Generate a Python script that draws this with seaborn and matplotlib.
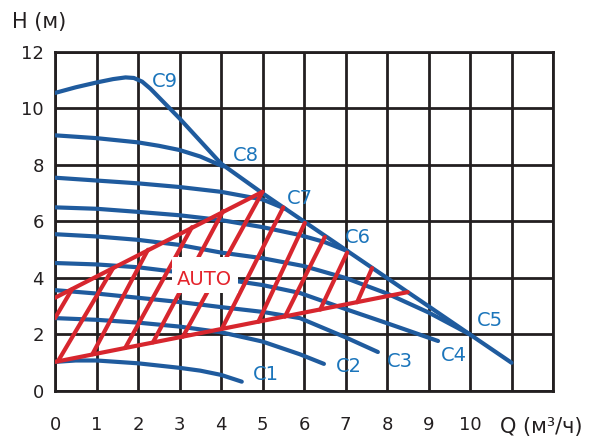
import numpy as np
import pandas as pd
import matplotlib
matplotlib.use('Agg')
import matplotlib.pyplot as plt
import seaborn as sns
from matplotlib.patches import Rectangle

# Pump curves: flow Q (m3/h) and head H (m)
c1_q = [0, 0.5, 1, 2, 3, 3.5, 4, 4.5]
c1_h = [1.03, 1.08, 1.08, 0.98, 0.82, 0.72, 0.57, 0.33]
c2_q = [0, 1, 2, 3, 4, 5, 5.9, 6.48]
c2_h = [2.58, 2.52, 2.42, 2.28, 2.08, 1.75, 1.3, 0.96]
c3_q = [0, 1, 2, 3, 4, 5, 5.9, 7, 7.78]
c3_h = [3.57, 3.45, 3.3, 3.15, 2.97, 2.8, 2.58, 1.9, 1.38]
c4_q = [0, 1, 2, 3, 4, 5, 5.9, 7, 8, 9.23]
c4_h = [4.53, 4.48, 4.38, 4.2, 3.97, 3.75, 3.47, 2.9, 2.4, 1.77]
c5_q = [0, 1, 2, 3, 4, 5, 6, 7, 8, 9, 10]
c5_h = [5.55, 5.47, 5.35, 5.17, 4.9, 4.7, 4.42, 4.0, 3.45, 2.78, 2.0]
c6_q = [0, 1, 2, 3, 4, 5, 5.9, 6.5, 7.05]
c6_h = [6.5, 6.45, 6.34, 6.22, 6.05, 5.8, 5.52, 5.27, 4.95]
c7_q = [0, 1, 2, 3, 4, 5, 5.55]
c7_h = [7.55, 7.45, 7.35, 7.22, 7.05, 6.78, 6.45]
c8_q = [0, 1, 2, 2.5, 3, 3.5, 4.05]
c8_h = [9.05, 8.95, 8.8, 8.68, 8.53, 8.3, 7.95]
c9_q = [0, 0.5, 1, 1.4, 1.7, 1.9, 2.1, 2.3, 2.6, 3, 3.5, 4, 5, 6, 8, 10, 11]
c9_h = [10.55, 10.75, 10.92, 11.04, 11.1, 11.08, 10.95, 10.7, 10.25, 9.65, 8.85, 8.05, 7.0, 6.0, 4.0, 2.0, 1.0]

curve_names = ['C1', 'C2', 'C3', 'C4', 'C5', 'C6', 'C7', 'C8', 'C9']
curve_q = [c1_q, c2_q, c3_q, c4_q, c5_q, c6_q, c7_q, c8_q, c9_q]
curve_h = [c1_h, c2_h, c3_h, c4_h, c5_h, c6_h, c7_h, c8_h, c9_h]
# label positions (centre of text)
label_q = [5.07, 7.07, 8.31, 9.6, 10.49, 7.3, 5.9, 4.6, 2.65]
label_h = [0.58, 0.85, 1.03, 1.26, 2.48, 5.45, 6.81, 8.32, 10.94]

# AUTO zone outline and hatching
auto_top_q = [0, 5]
auto_top_h = [3.3, 7.05]
auto_bot_q = [0, 8.5]
auto_bot_h = [1.03, 3.5]
hatch_q0 = [0, 0.07, 0.9, 1.69, 2.36, 3.08, 4.02, 4.9, 5.54, 6.39, 7.28]
hatch_h0 = [2.58, 1.05, 1.3, 1.52, 1.72, 1.92, 2.2, 2.45, 2.63, 2.88, 3.14]
hatch_q1 = [0.41, 1.4, 2.24, 3.3, 4.05, 5.0, 5.5, 6.02, 6.5, 7.04, 7.64]
hatch_h1 = [3.6, 4.35, 5.0, 5.8, 6.37, 7.05, 6.5, 5.95, 5.45, 4.9, 4.35]

blue = '#1f5b9e'
label_blue = '#1b75bb'
red = '#d7262e'
dark = '#231f20'

rows = []
for name, qs, hs in zip(curve_names, curve_q, curve_h):
    for i, (q, h) in enumerate(zip(qs, hs)):
        rows.append({'curve': name, 'i': i, 'Q': q, 'H': h})
curves = pd.DataFrame(rows)

red_rows = []
segs = [(auto_top_q, auto_top_h), (auto_bot_q, auto_bot_h)]
segs += [([a, b], [c, d]) for a, c, b, d in zip(hatch_q0, hatch_h0, hatch_q1, hatch_h1)]
for k, (qs, hs) in enumerate(segs):
    for q, h in zip(qs, hs):
        red_rows.append({'seg': k, 'Q': q, 'H': h})
auto = pd.DataFrame(red_rows)

sns.set_style('white')
plt.rcParams['font.family'] = ['DejaVu Sans']

fig = plt.figure(figsize=(5.94, 4.42), dpi=100)
ax = fig.add_axes([0.0926, 0.1154, 0.8384, 0.767])

sns.lineplot(data=curves, x='Q', y='H', units='curve', estimator=None, sort=False,
             color=blue, lw=3, ax=ax, zorder=3)
sns.lineplot(data=auto, x='Q', y='H', units='seg', estimator=None, sort=False,
             color=red, lw=3, ax=ax, zorder=4)

for name, q, h in zip(curve_names, label_q, label_h):
    ax.text(q, h, name, color=label_blue, fontsize=14, ha='center', va='center', zorder=6)

ax.add_patch(Rectangle((2.82, 3.47), 1.59, 1.27, facecolor='white', edgecolor='none', zorder=5))
ax.text(3.61, 3.93, 'AUTO', color='#e4232b', fontsize=14, ha='center', va='center', zorder=6)

ax.set_xlim(0, 12)
ax.set_ylim(0, 12)
ax.set_xticks(np.arange(0, 13, 1))
ax.set_xticklabels([str(v) if v <= 10 else '' for v in range(13)])
ax.set_xticks(np.arange(0.5, 12, 1), minor=True)
ax.set_yticks(np.arange(0, 13, 2))
ax.set_yticks(np.arange(1, 12, 2), minor=True)
ax.grid(True, which='major', color=dark, lw=2)
ax.set_axisbelow(True)
for s in ax.spines.values():
    s.set_visible(True)
    s.set_color(dark)
    s.set_linewidth(2)
ax.tick_params(axis='x', which='both', direction='out', length=6, width=2, color=dark,
               labelsize=13, pad=12, labelcolor=dark)
ax.tick_params(axis='y', which='both', direction='out', length=4, width=2, color=dark,
               labelsize=13, pad=4, labelcolor=dark)
ax.set_xlabel('')
ax.set_ylabel('')

ax.text(-1.04, 13.05, 'H (м)', fontsize=15, color=dark, ha='left', va='center', clip_on=False)
ax.text(11.72, -1.27, 'Q (м³/ч)', fontsize=15, color=dark, ha='center', va='center', clip_on=False)

fig.savefig('out.png', dpi=100)
